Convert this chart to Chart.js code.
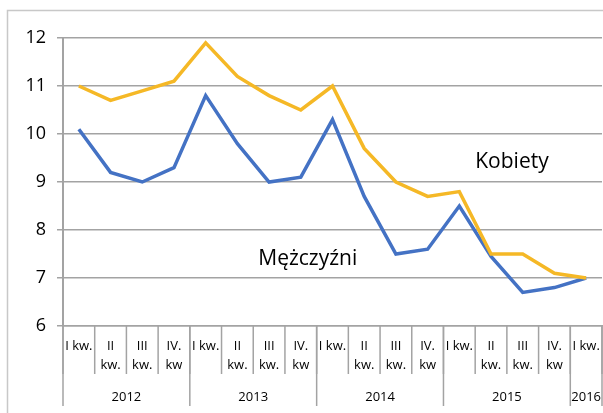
<!DOCTYPE html>
<html>
<head>
<meta charset="utf-8">
<script src="https://cdn.jsdelivr.net/npm/chart.js@4/dist/chart.umd.min.js"></script>
<style>
  html, body { margin: 0; padding: 0; background: #fff; }
  #wrap { position: absolute; left: 0; top: 0; width: 603px; height: 413px; }
</style>
</head>
<body>
<div id="wrap"><canvas id="lineChart" width="603" height="413"></canvas></div>
<script>
// quarter labels (multi-line) and years
const quarters = [
  'I kw.', ['II', 'kw.'], ['III', 'kw.'], ['IV.', 'kw'],
  'I kw.', ['II', 'kw.'], ['III', 'kw.'], ['IV.', 'kw'],
  'I kw.', ['II', 'kw.'], ['III', 'kw.'], ['IV.', 'kw'],
  'I kw.', ['II', 'kw.'], ['III', 'kw.'], ['IV.', 'kw'],
  'I kw.'
];
const years = ['2012', '2013', '2014', '2015', '2016'];
const yearSpans = [4, 4, 4, 4, 1];

// series values
const kobiety = [11.0, 10.7, 10.9, 11.1, 11.9, 11.2, 10.8, 10.5, 11.0, 9.7, 9.0, 8.7, 8.8, 7.5, 7.5, 7.1, 7.0];
const mezczyzni = [10.1, 9.2, 9.0, 9.3, 10.8, 9.8, 9.0, 9.1, 10.3, 8.7, 7.5, 7.6, 8.5, 7.45, 6.7, 6.8, 7.0];

// text labels placed in data coordinates
const seriesLabels = [
  { text: 'Kobiety', x: 13.66, y: 9.42 },
  { text: 'Mężczyźni', x: 7.22, y: 7.4 }
];

const fontFamily = "'Open Sans', 'Noto Sans', sans-serif";
const lineGray = '#a3a3a3';

// Draws outer border, category dividers and year row
const axisPlugin = {
  id: 'axisPlugin',
  beforeDraw(chart) {
    const ctx = chart.ctx;
    ctx.save();
    ctx.strokeStyle = '#c8c8c8';
    ctx.lineWidth = 1.5;
    ctx.strokeRect(7.5, 10.5, 700, 500);
    ctx.restore();
  },
  afterDraw(chart) {
    const ctx = chart.ctx;
    const x = chart.scales.x;
    const area = chart.chartArea;
    const half = (x.getPixelForValue(1) - x.getPixelForValue(0)) / 2;
    const edge = i => x.getPixelForValue(i) - half;

    ctx.save();
    ctx.strokeStyle = lineGray;
    ctx.lineWidth = 1.5;

    // quarter dividers
    for (let i = 0; i <= quarters.length; i++) {
      ctx.beginPath();
      ctx.moveTo(edge(i), area.bottom);
      ctx.lineTo(edge(i), area.bottom + 48);
      ctx.stroke();
    }

    // year dividers and labels
    let start = 0;
    ctx.fillStyle = '#000';
    ctx.font = '13px ' + fontFamily;
    ctx.textAlign = 'center';
    ctx.textBaseline = 'middle';
    for (let k = 0; k <= years.length; k++) {
      ctx.beginPath();
      ctx.moveTo(edge(start), area.bottom);
      ctx.lineTo(edge(start), area.bottom + 80);
      ctx.stroke();
      if (k < years.length) {
        const end = start + yearSpans[k];
        ctx.fillText(years[k], (edge(start) + edge(end)) / 2, area.bottom + 71);
        start = end;
      }
    }

    // series name labels
    const y = chart.scales.y;
    ctx.font = '21px ' + fontFamily;
    seriesLabels.forEach(l => {
      ctx.fillText(l.text, x.getPixelForValue(l.x), y.getPixelForValue(l.y));
    });
    ctx.restore();
  }
};

const ctx = document.getElementById('lineChart').getContext('2d');
new Chart(ctx, {
  type: 'line',
  data: {
    labels: quarters,
    datasets: [
      {
        label: 'Kobiety',
        data: kobiety,
        borderColor: '#F5B826',
        borderWidth: 3.5,
        pointRadius: 0,
        tension: 0
      },
      {
        label: 'Mężczyźni',
        data: mezczyzni,
        borderColor: '#4472C4',
        borderWidth: 3.5,
        pointRadius: 0,
        tension: 0
      }
    ]
  },
  options: {
    responsive: false,
    animation: false,
    layout: { padding: { top: 38, right: 1, left: 0, bottom: 0 } },
    plugins: {
      legend: { display: false },
      tooltip: { enabled: false }
    },
    scales: {
      x: {
        offset: true,
        grid: { display: false },
        border: { display: true, color: lineGray, width: 1.5 },
        ticks: {
          autoSkip: false,
          maxRotation: 0,
          padding: 3,
          color: '#000',
          font: { size: 13, family: fontFamily, lineHeight: 1.45 }
        },
        afterFit(scale) { scale.height = 87; }
      },
      y: {
        min: 6,
        max: 12,
        ticks: {
          stepSize: 1,
          padding: 11,
          color: '#000',
          font: { size: 18, family: fontFamily }
        },
        grid: { color: lineGray, lineWidth: 1.5, tickLength: 6 },
        border: { display: true, color: lineGray, width: 2 },
        afterFit(scale) { scale.width = 63; }
      }
    }
  },
  plugins: [axisPlugin]
});
</script>
</body>
</html>
